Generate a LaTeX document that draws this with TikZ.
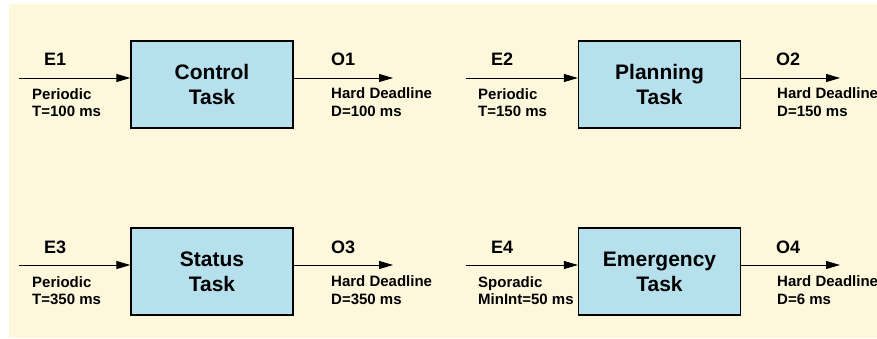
\documentclass[tikz,border=0pt]{standalone}
\usepackage{fontspec}
\setmainfont{Liberation Sans}
\usetikzlibrary{arrows.meta}

\definecolor{paper}{HTML}{FDF8DC}
\definecolor{taskblue}{HTML}{B5E0EC}

\begin{document}
\begin{tikzpicture}[x=1pt,y=-1pt,
  taskbox/.style={draw=black, line width=1.3pt, fill=taskblue,
    minimum width=162pt, minimum height=87pt, inner sep=0pt,
    align=center, font=\fontsize{21}{25}\selectfont\bfseries},
  sigflow/.style={line width=0.9pt, -{Triangle[length=14pt,width=8pt]}},
  evname/.style={anchor=base west, inner sep=0pt,
    font=\fontsize{18}{21}\selectfont\bfseries},
  evnote/.style={anchor=base west, inner sep=0pt,
    font=\fontsize{15}{17}\selectfont\bfseries}]

  % page and background panel
  \useasboundingbox (0,0) rectangle (877,339);
  \fill[white] (0,0) rectangle (877,339);
  \fill[paper] (9,4) rectangle (877,338);

  % task boxes
  \node[taskbox] (ctl) at (212,84.5)   {Control\\Task};
  \node[taskbox] (pln) at (659.5,84.5) {Planning\\Task};
  \node[taskbox] (sts) at (212,271.5)  {Status\\Task};
  \node[taskbox] (emg) at (659.5,271.5){Emergency\\Task};

  % free ends of the event and output lines
  \coordinate (in1)  at (19,78);
  \coordinate (out1) at (393,78);
  \coordinate (in2)  at (466,78);
  \coordinate (out2) at (840,78);
  \coordinate (in3)  at (19,265);
  \coordinate (out3) at (393,265);
  \coordinate (in4)  at (466,265);
  \coordinate (out4) at (840,265);

  % connectors
  \draw[sigflow] (in1) -- (in1 -| ctl.west);
  \draw[sigflow] (ctl.east |- out1) -- (out1);
  \draw[sigflow] (in2) -- (in2 -| pln.west);
  \draw[sigflow] (pln.east |- out2) -- (out2);
  \draw[sigflow] (in3) -- (in3 -| sts.west);
  \draw[sigflow] (sts.east |- out3) -- (out3);
  \draw[sigflow] (in4) -- (in4 -| emg.west);
  \draw[sigflow] (emg.east |- out4) -- (out4);

  % Control task labels
  \node[evname] (e1)  at (44,66)  {E1};
  \node[evnote] (e1a) at (32,100) {Periodic};
  \node[evnote] (e1b) at (32,117) {T=100 ms};
  \node[evname] (o1)  at (331,66) {O1};
  \node[evnote] (o1a) at (331,99) {Hard Deadline};
  \node[evnote] (o1b) at (331,117){D=100 ms};

  % Planning task labels
  \node[evname] (e2)  at (491,66)  {E2};
  \node[evnote] (e2a) at (478,100) {Periodic};
  \node[evnote] (e2b) at (478,117) {T=150 ms};
  \node[evname] (o2)  at (776,66)  {O2};
  \node[evnote] (o2a) at (777,99)  {Hard Deadline};
  \node[evnote] (o2b) at (777,117) {D=150 ms};

  % Status task labels
  \node[evname] (e3)  at (44,253)  {E3};
  \node[evnote] (e3a) at (32,287)  {Periodic};
  \node[evnote] (e3b) at (32,304)  {T=350 ms};
  \node[evname] (o3)  at (331,253) {O3};
  \node[evnote] (o3a) at (331,286) {Hard Deadline};
  \node[evnote] (o3b) at (331,304) {D=350 ms};

  % Emergency task labels
  \node[evname] (e4)  at (491,253) {E4};
  \node[evnote] (e4a) at (478,287) {Sporadic};
  \node[evnote] (e4b) at (478,304) {MinInt=50 ms};
  \node[evname] (o4)  at (776,253) {O4};
  \node[evnote] (o4a) at (777,286) {Hard Deadline};
  \node[evnote] (o4b) at (777,304) {D=6 ms};
\end{tikzpicture}
\end{document}
